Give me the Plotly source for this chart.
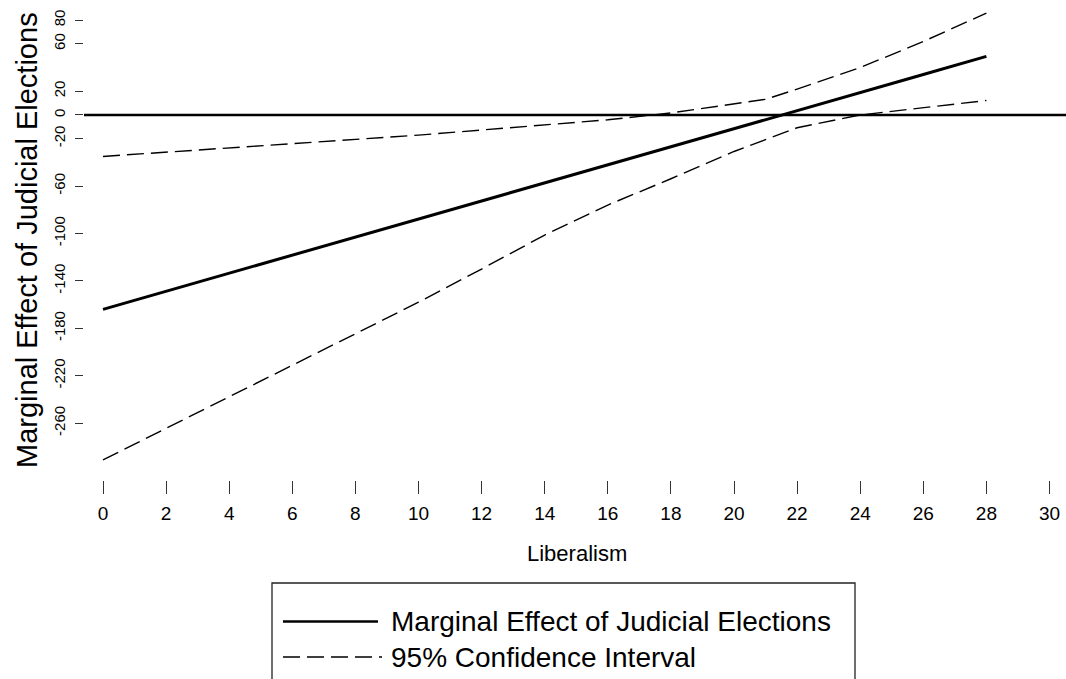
import plotly.graph_objects as go

# Data
liberalism = [0, 2, 4, 6, 8, 10, 12, 14, 16, 18, 20, 21, 22, 24, 26, 28]
marginal_effect = [-164, -148.8, -133.5, -118.3, -103, -87.8, -72.6, -57.3,
                   -42.1, -26.8, -11.6, -4.0, 3.6, 18.9, 34.1, 49.4]
ci_upper = [-35, -31.5, -27.8, -24.2, -20.5, -17, -12.7, -8.4,
            -4.1, 1.7, 9.4, 13.2, 21.8, 40, 62, 86]
ci_lower = [-291, -264.4, -237.8, -211, -184.5, -158, -130, -101.3,
            -76, -53.8, -30.8, -20.8, -10.8, 0, 6, 12.2]

x_ticks = list(range(0, 31, 2))
y_ticks = [80, 60, 20, 0, -20, -60, -100, -140, -180, -220, -260]

series_name = "Marginal Effect of Judicial Elections"
ci_name = "95% Confidence Interval"
x_title = "Liberalism"
y_title = "Marginal Effect of Judicial Elections"

W, H = 1066, 679
L, R, T, B = 84, 0, 0, 199
PW, PH = W - L - R, H - T - B

def px_x(p):
    return (p - L) / PW

def px_y(p):
    return (T + PH - p) / PH

FONT = "Liberation Sans, Arial, Helvetica, sans-serif"

fig = go.Figure()
fig.add_trace(go.Scatter(x=liberalism, y=ci_upper, mode="lines",
                         line=dict(color="black", width=1.4, dash="17px,7px"),
                         showlegend=False, name=ci_name))
fig.add_trace(go.Scatter(x=liberalism, y=ci_lower, mode="lines",
                         line=dict(color="black", width=1.4, dash="17px,7px"),
                         showlegend=False, name=ci_name))
fig.add_trace(go.Scatter(x=liberalism, y=marginal_effect, mode="lines",
                         line=dict(color="black", width=3),
                         showlegend=False, name=series_name))

# horizontal reference line at zero
fig.add_shape(type="line", xref="paper", yref="y", x0=0, x1=1, y0=0, y1=0,
              line=dict(color="black", width=2.6))

# manual legend box (cut off at the bottom like the reference)
fig.add_shape(type="rect", xref="paper", yref="paper",
              x0=px_x(272), x1=px_x(855), y0=px_y(583), y1=px_y(700),
              line=dict(color="#222", width=1.3), fillcolor="white")
fig.add_shape(type="line", xref="paper", yref="paper",
              x0=px_x(283), x1=px_x(378), y0=px_y(621.5), y1=px_y(621.5),
              line=dict(color="black", width=2.6))
fig.add_shape(type="line", xref="paper", yref="paper",
              x0=px_x(283), x1=px_x(382), y0=px_y(657), y1=px_y(657),
              line=dict(color="black", width=1.4, dash="17px,7px"))
fig.add_annotation(xref="paper", yref="paper", x=px_x(389), y=px_y(621.5),
                   text=series_name, showarrow=False, xanchor="left", yanchor="middle",
                   font=dict(family=FONT, size=28, color="black"))
fig.add_annotation(xref="paper", yref="paper", x=px_x(389), y=px_y(657),
                   text=ci_name, showarrow=False, xanchor="left", yanchor="middle",
                   font=dict(family=FONT, size=28, color="black"))

# axis titles
fig.add_annotation(xref="paper", yref="paper", x=px_x(577), y=px_y(553),
                   text=x_title, showarrow=False, xanchor="center", yanchor="middle",
                   font=dict(family=FONT, size=22, color="black"))
fig.add_annotation(xref="paper", yref="paper", x=px_x(27), y=px_y(240),
                   text=y_title, showarrow=False, xanchor="center", yanchor="middle",
                   textangle=-90, font=dict(family=FONT, size=29, color="black"))

fig.update_layout(
    width=W, height=H,
    margin=dict(l=L, r=R, t=T, b=B, pad=0),
    paper_bgcolor="white", plot_bgcolor="white",
    showlegend=False,
    xaxis=dict(range=[(L - 103) / 31.55, (W - 103) / 31.55],
               tickmode="array", tickvals=x_ticks,
               ticktext=[str(v) for v in x_ticks],
               ticks="outside", ticklen=13, tickwidth=1.3, tickcolor="#333",
               showline=False, showgrid=False, zeroline=False,
               ticklabelstandoff=3,
               tickfont=dict(family=FONT, size=19, color="black")),
    yaxis=dict(range=[-308, 97],
               tickmode="array", tickvals=y_ticks,
               ticktext=[str(v) for v in y_ticks],
               ticks="outside", ticklen=8, tickwidth=1.3, tickcolor="#333",
               showline=False, showgrid=False, zeroline=False,
               tickangle=-90, ticklabelstandoff=4,
               tickfont=dict(family=FONT, size=15, color="black")),
)

fig.write_html("out.html",
               config={"displayModeBar": False},
               post_script="document.body.style.margin='0';document.body.style.padding='0';")
